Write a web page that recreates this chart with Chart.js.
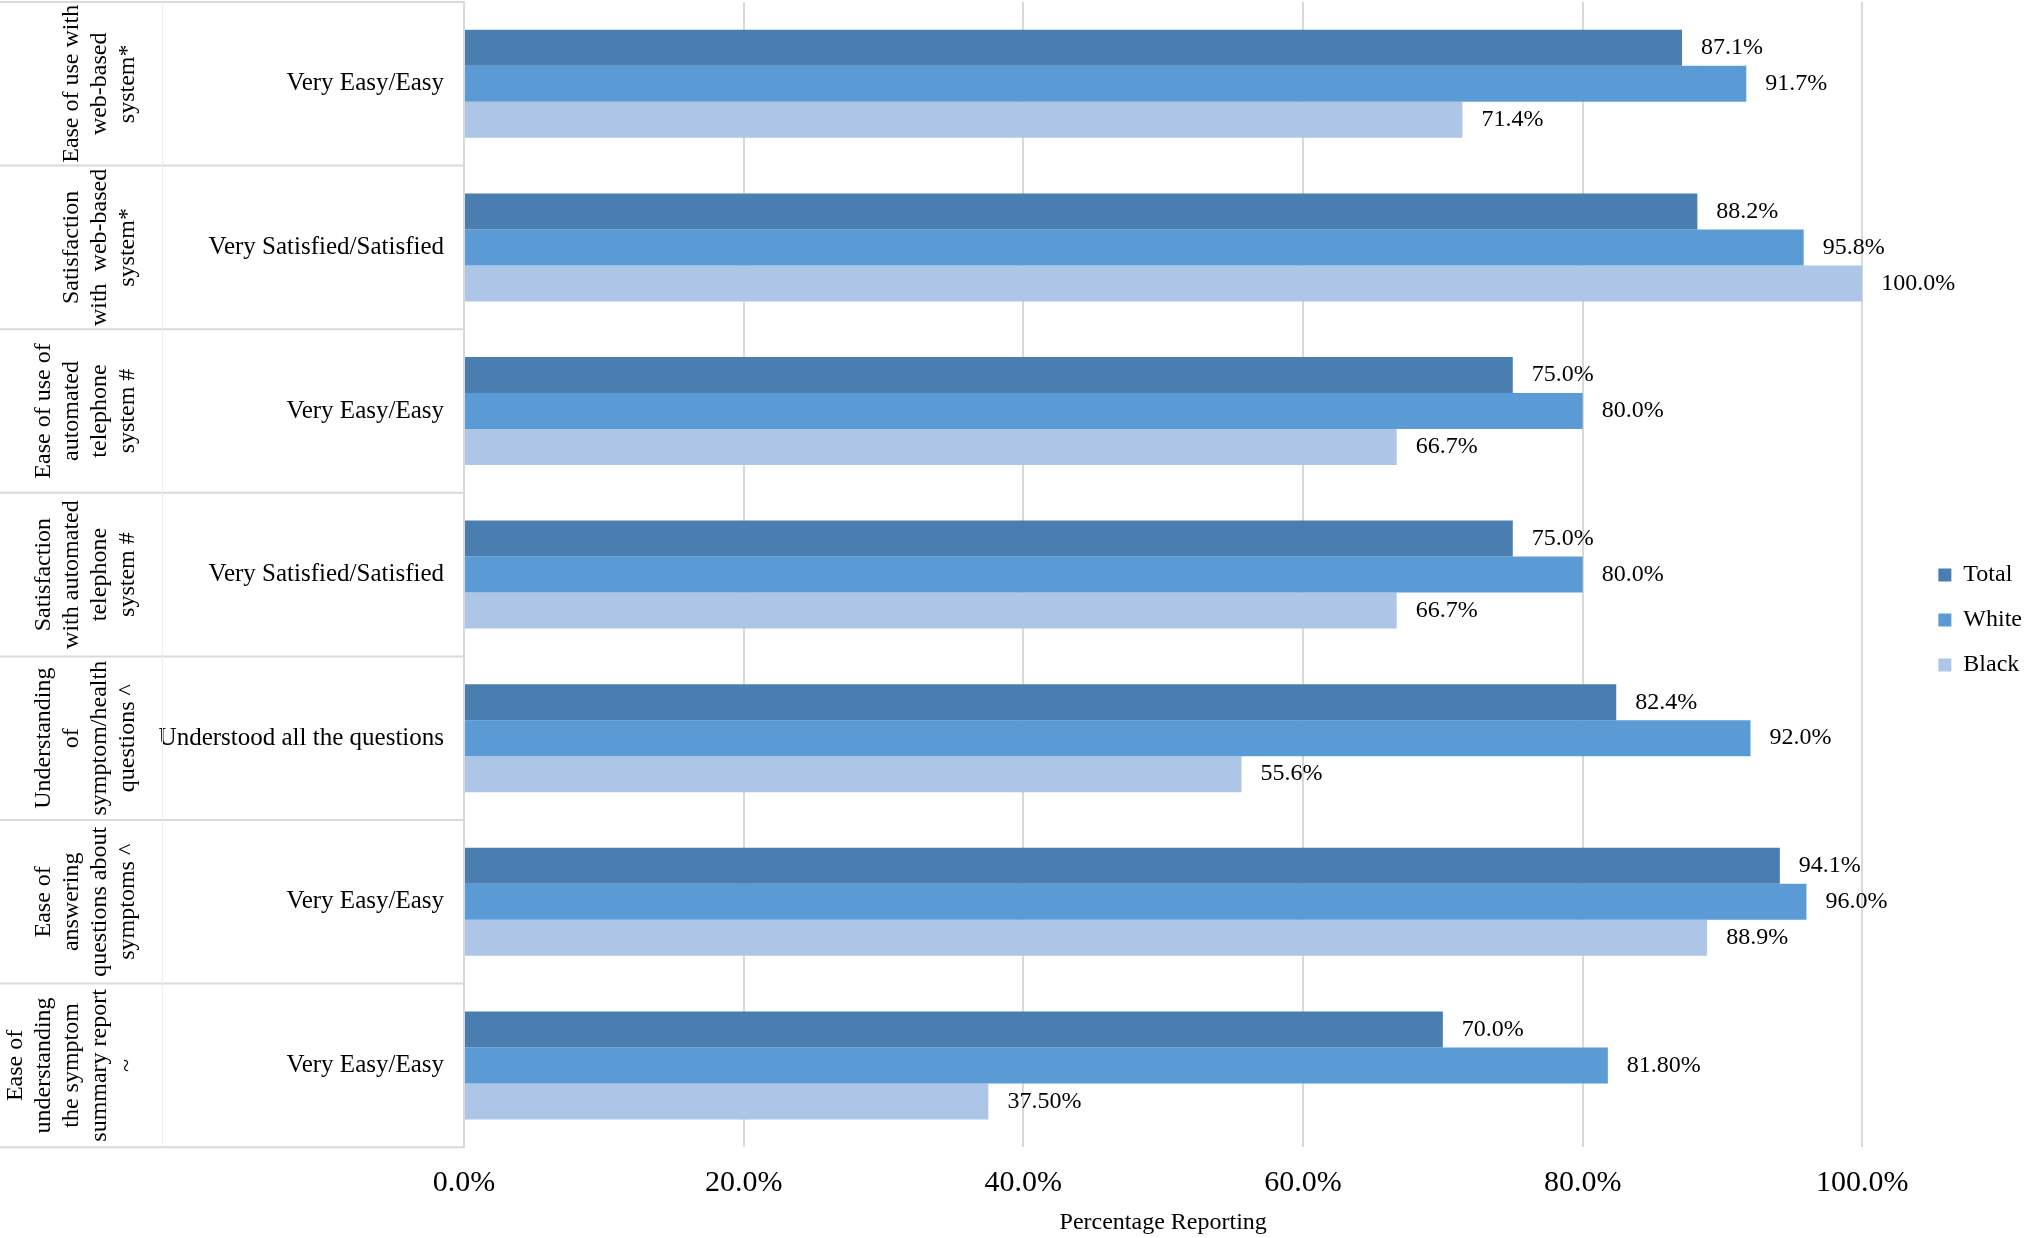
<!DOCTYPE html>
<html>
<head>
<meta charset="utf-8">
<script src="https://cdn.jsdelivr.net/npm/chart.js@4.4.0/dist/chart.umd.min.js"></script>
<style>
  html, body { margin: 0; padding: 0; background: #fff; }
  #wrap { width: 2032px; height: 1238px; position: relative; }
</style>
</head>
<body>
<div id="wrap"><canvas id="surveyChart"></canvas></div>
<script>
// outer (rotated) group labels, one array of lines per group
var groupLabels = [
    ['Ease of use with', 'web-based', 'system*'],
    ['Satisfaction', 'with  web-based', 'system*'],
    ['Ease of use of', 'automated', 'telephone', 'system #'],
    ['Satisfaction', 'with automated', 'telephone', 'system #'],
    ['Understanding', 'of', 'symptom/health', 'questions ^'],
    ['Ease of', 'answering', 'questions about', 'symptoms ^'],
    ['Ease of', 'understanding', 'the symptom', 'summary report', '~']
];
var responseLabels = [
    'Very Easy/Easy',
    'Very Satisfied/Satisfied',
    'Very Easy/Easy',
    'Very Satisfied/Satisfied',
    'Understood all the questions',
    'Very Easy/Easy',
    'Very Easy/Easy'
];
// kept as text so the labels keep their printed precision
var totalValues = ['87.1', '88.2', '75.0', '75.0', '82.4', '94.1', '70.0'];
var whiteValues = ['91.7', '95.8', '80.0', '80.0', '92.0', '96.0', '81.80'];
var blackValues = ['71.4', '100.0', '66.7', '66.7', '55.6', '88.9', '37.50'];
var xTicks = [0, 20, 40, 60, 80, 100];

Chart.defaults.font.family = '"Liberation Serif", "Times New Roman", serif';
Chart.defaults.color = '#000';

var sidePanel = {
    id: 'sidePanel',
    afterDraw: function(chart) {
        var ctx = chart.ctx;
        var area = chart.chartArea;
        var y = chart.scales.y;
        var n = groupLabels.length;
        var step = (area.bottom - area.top) / n;
        ctx.save();
        ctx.strokeStyle = '#d9d9d9';
        ctx.lineWidth = 2;
        for (var i = 0; i <= n; i++) {
            var yy = area.top + i * step;
            ctx.beginPath();
            ctx.moveTo(0, yy);
            ctx.lineTo(area.left, yy);
            ctx.stroke();
        }
        ctx.strokeStyle = '#efefef';
        ctx.lineWidth = 1;
        ctx.beginPath();
        ctx.moveTo(162.5, area.top);
        ctx.lineTo(162.5, area.bottom);
        ctx.stroke();

        ctx.font = '24px "Liberation Serif"';
        ctx.fillStyle = '#000';
        ctx.textAlign = 'center';
        ctx.textBaseline = 'middle';
        groupLabels.forEach(function(lines, i) {
            var cy = y.getPixelForValue(i);
            ctx.save();
            ctx.translate(0, cy);
            ctx.rotate(-Math.PI / 2);
            lines.forEach(function(t, k) {
                var cx = 128 - (lines.length - 1 - k) * 28;
                ctx.fillText(t, 0, cx);
            });
            ctx.restore();
        });
        ctx.restore();
    },
    afterDatasetsDraw: function(chart) {
        var ctx = chart.ctx;
        ctx.save();
        ctx.font = '24px "Liberation Serif"';
        ctx.fillStyle = '#000';
        ctx.textAlign = 'left';
        ctx.textBaseline = 'middle';
        chart.data.datasets.forEach(function(ds, i) {
            chart.getDatasetMeta(i).data.forEach(function(bar, j) {
                ctx.fillText(ds.data[j] + '%', bar.x + 19, bar.y);
            });
        });
        ctx.restore();
    }
};

var ctx = document.getElementById('surveyChart').getContext('2d');
var surveyChart = new Chart(ctx, {
    type: 'bar',
    data: {
        labels: responseLabels,
        datasets: [
            { label: 'Total', data: totalValues, backgroundColor: '#4a7eb0', borderWidth: 0 },
            { label: 'White', data: whiteValues, backgroundColor: '#5b9bd5', borderWidth: 0 },
            { label: 'Black', data: blackValues, backgroundColor: '#adc5e6', borderWidth: 0 }
        ]
    },
    options: {
        indexAxis: 'y',
        responsive: true,
        maintainAspectRatio: false,
        devicePixelRatio: 1,
        animation: false,
        layout: { padding: { top: 2, left: 0, right: 0, bottom: 0 } },
        datasets: {
            bar: { categoryPercentage: 0.66, barPercentage: 1.0 }
        },
        scales: {
            x: {
                min: 0,
                max: 100,
                afterBuildTicks: function(scale) {
                    scale.ticks = xTicks.map(function(v) { return { value: v }; });
                },
                ticks: {
                    font: { size: 30, lineHeight: 1 },
                    padding: 21,
                    callback: function(v) { return v.toFixed(1) + '%'; }
                },
                grid: { color: '#d9d9d9', lineWidth: 2, drawTicks: false },
                border: { display: false },
                title: {
                    display: true,
                    text: 'Percentage Reporting',
                    font: { size: 24 },
                    padding: { top: -11, bottom: 1 }
                }
            },
            y: {
                grid: { display: false },
                border: { display: true, color: '#d9d9d9', width: 2 },
                ticks: { font: { size: 25 }, padding: 12 },
                afterFit: function(scale) {
                    scale.width = 464;
                    scale.paddingTop = 0;
                    scale.paddingBottom = 0;
                }
            },
            yPad: {
                type: 'linear',
                position: 'right',
                grid: { display: false },
                ticks: { display: false },
                border: { display: false },
                afterFit: function(scale) {
                    scale.width = 55;
                    scale.paddingTop = 0;
                    scale.paddingBottom = 0;
                }
            }
        },
        plugins: {
            legend: {
                position: 'right',
                labels: {
                    font: { size: 24 },
                    boxWidth: 13,
                    boxHeight: 13,
                    padding: 21
                }
            },
            tooltip: { enabled: false }
        }
    },
    plugins: [sidePanel]
});
</script>
</body>
</html>
